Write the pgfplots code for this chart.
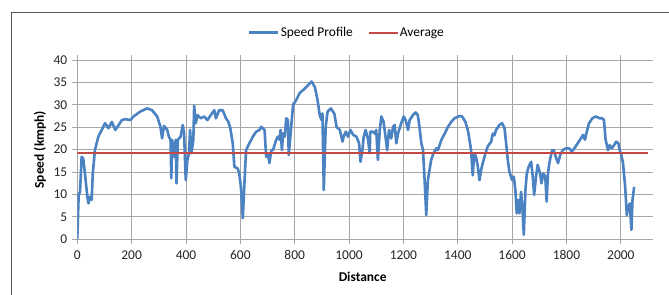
\documentclass[border=0pt]{standalone}
\usepackage{pgfplots}
\pgfplotsset{compat=1.18}
\usepackage{fontspec}
\setmainfont{Carlito}
\definecolor{xlblue}{HTML}{4A82C2}
\definecolor{xlred}{HTML}{C44844}
\definecolor{gridgray}{HTML}{A6A6A6}
\begin{document}
\begin{tikzpicture}
\useasboundingbox (0,0) rectangle (669bp,295bp);
\clip (0,0) rectangle (669bp,295bp);
\fill[white] (0,0) rectangle (669bp,295bp);
\draw[black!65, line width=1.1bp] (700bp,282.3bp) -- (11.7bp,282.3bp) -- (11.7bp,-10bp);
\begin{axis}[
  at={(77.3bp,55.7bp)}, anchor=south west,
  scale only axis, width=570.7bp, height=179.3bp,
  xmin=0, xmax=2100, ymin=0, ymax=40,
  xtick={0,200,...,2000}, ytick={0,5,...,40},
  grid=major,
  major grid style={gridgray, line width=0.9bp},
  axis line style={draw=none},
  tick align=outside, major tick length=5bp,
  tick style={gridgray, line width=0.9bp},
  /pgf/number format/assume math mode=true,
  /pgf/number format/1000 sep={},
  tick label style={font=\fontsize{13.5}{15}\selectfont, text=black!85},
  yticklabel style={xshift=-1.5bp},
  xticklabel style={yshift=-2.5bp},
  xlabel={Distance}, ylabel={Speed (kmph)},
  xlabel style={font=\bfseries\fontsize{13.5}{15}\selectfont, at={(axis description cs:0.5,0)}, anchor=center, yshift=-37.7bp},
  ylabel style={font=\bfseries\fontsize{13.5}{15}\selectfont, at={(axis description cs:-0.0654,0.5)}, anchor=center},
  legend columns=2,
  legend style={draw=none, fill=none, at={(axis description cs:0.4717,1.152)}, anchor=center,
    font=\fontsize{13.5}{15}\selectfont, /tikz/every even column/.append style={column sep=14bp},
    inner sep=0pt, nodes={inner sep=1bp}},
  legend image code/.code={\draw[#1] (0bp,0bp) -- (29bp,0bp);},
]
\addplot[xlblue, line width=2.6bp, line join=round] coordinates {
(0,0) (5,9.9) (10,10.6) (16,18.4) (22,18) (28,14.7) (37,9.5) (41,8) (47,9.5) (53,8.8)
(57,14.7) (65,20) (78,23) (90,24.4) (102,25.9) (115,24.8) (127,26.2) (140,24.4) (152,25.5)
(164,26.6) (177,26.8) (195,26.6) (207,27.4) (232,28.5) (257,29.2) (275,28.8) (294,27.4)
(306,25.1) (312,22.5) (319,25.3) (331,24.4) (337,22.9) (343,22.2) (346,13.6) (349,22.2)
(356,18.4) (362,22.2) (365,12.5) (370,22.2) (380,22.9) (388,25.5) (393,23.6) (399,13.2)
(405,17.7) (411,19.2) (415,24.4) (420,19.2) (427,22.2) (430,29.8) (436,25.9) (442,27.7)
(454,27) (467,27.4) (479,26.6) (491,27.7) (504,28.8) (510,27) (522,28.8) (535,28.8)
(547,27) (556,26.2) (563,24.8) (572,21.4) (578,16.2) (590,15.8) (596,14.7) (602,11.7)
(609,4.7) (615,12.5) (621,19.9) (633,21.4) (646,22.9) (658,24) (670,24.4) (677,25.1)
(689,24.4) (695,18.4) (701,19.2) (707,17) (714,19.9) (720,19.9) (732,22.2) (738,22.9)
(744,22.2) (748,24.4) (753,19.9) (757,23.6) (763,22.9) (769,27) (775,26.6) (778,18.8)
(785,23.6) (794,30) (806,31.1) (818,32.6) (831,33.3) (843,34) (862,35.2) (874,34)
(884,31.1) (892,27.7) (899,26.6) (902,28.1) (907,11) (914,25.1) (921,28.5) (933,29.2)
(946,28) (954,25.1) (966,24.4) (976,21.8) (980,22.9) (988,24) (996,22.9) (1005,24.4)
(1015,23.3) (1027,22.9) (1037,21.4) (1042,17.3) (1049,19.9) (1054,22.9) (1061,24.4)
(1070,22.2) (1076,19.2) (1078,24) (1088,24) (1094,23.6) (1100,24.4) (1106,17.7)
(1113,24.4) (1119,27.4) (1127,26.2) (1134,22.9) (1140,19.9) (1147,24.4) (1155,22.5)
(1162,25.1) (1168,25.5) (1174,21.4) (1180,23.6) (1192,25.9) (1201,27.4) (1208,26.6)
(1217,24.4) (1223,26.6) (1235,27.7) (1245,28.3) (1253,27.7) (1259,25.1) (1266,21.4)
(1272,19.9) (1278,13.2) (1284,5.4) (1290,13.2) (1294,14.7) (1302,17.7) (1311,19.2)
(1321,20.3) (1327,19.9) (1340,22.2) (1352,23.6) (1364,25.1) (1376,26.2) (1388,27)
(1406,27.5) (1416,27.4) (1428,26.2) (1437,24.4) (1443,22.2) (1449,19.9) (1455,14.3)
(1461,19.2) (1467,18.4) (1473,16.6) (1480,13.2) (1486,15.5) (1492,17) (1502,19.2)
(1510,20.7) (1523,21.8) (1529,23.6) (1535,23.2) (1541,24.4) (1553,25.5) (1563,25.9)
(1572,24.8) (1578,21.4) (1584,17.7) (1590,15.1) (1600,13.2) (1606,14) (1612,11)
(1617,5.8) (1622,8.8) (1627,5.8) (1633,10.6) (1639,5.8) (1643,1) (1649,11) (1654,14.7)
(1661,16.2) (1670,17.3) (1676,14) (1681,9.9) (1688,14) (1694,16.6) (1703,14.7)
(1708,12.5) (1715,14.7) (1722,14) (1727,8.4) (1732,14.7) (1737,17) (1747,19.9)
(1753,19.9) (1762,18.1) (1769,17) (1777,18.8) (1786,19.9) (1798,20.3) (1810,20.3)
(1820,19.6) (1829,20.3) (1841,21.4) (1853,22.5) (1861,23.3) (1868,22.2) (1873,23.6)
(1883,25.9) (1895,27) (1908,27.4) (1922,27) (1932,27) (1938,26.6) (1944,22.2)
(1953,19.9) (1959,21) (1967,20.3) (1975,21) (1983,21.8) (1991,21.4) (1996,19.9)
(2002,18.8) (2008,17) (2016,11.7) (2022,5.4) (2028,7.3) (2033,8) (2039,2.1)
(2043,8.8) (2049,11.7)
};
\addlegendentry{Speed Profile}
\addplot[xlred, line width=2bp] coordinates {(0,19.3) (2100,19.3)};
\addlegendentry{Average}
\end{axis}
\end{tikzpicture}
\end{document}
